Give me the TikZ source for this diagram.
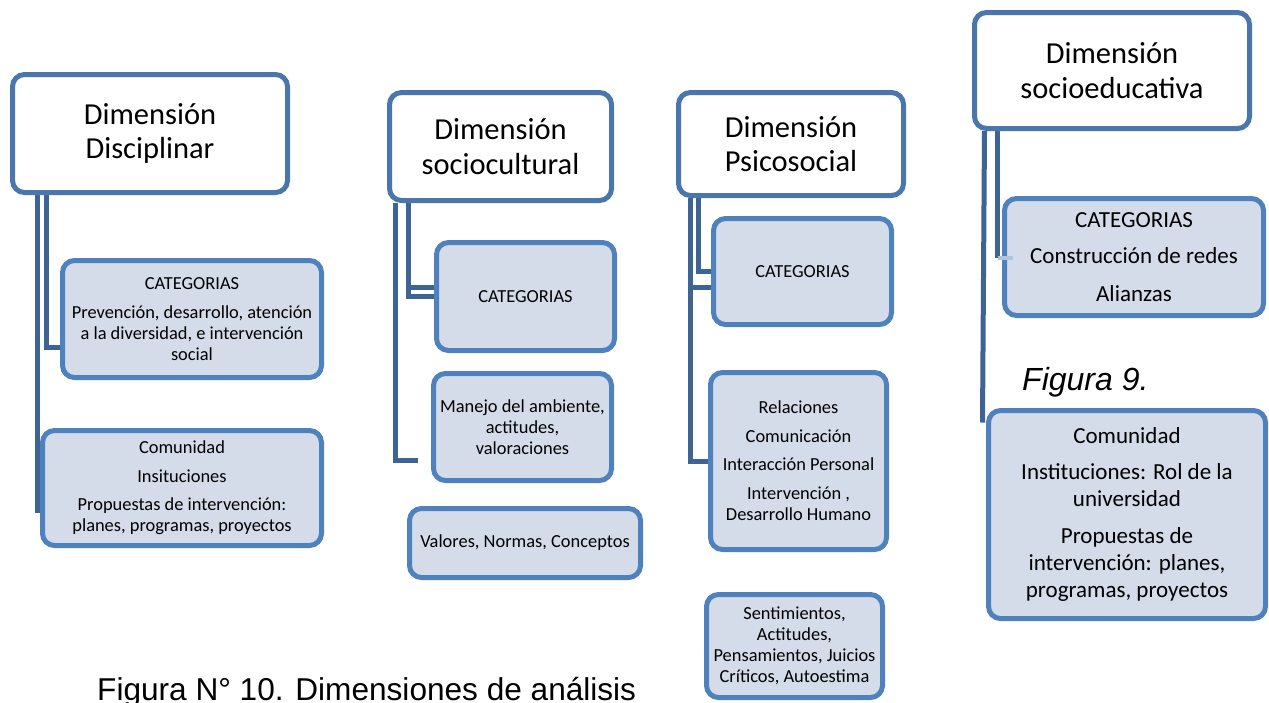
\documentclass[tikz,border=0pt]{standalone}
\usepackage{fontspec}
\setmainfont{Carlito}
\newfontfamily\capfont{Liberation Sans}
\usetikzlibrary{backgrounds}
\definecolor{hdrline}{RGB}{74,118,172}
\definecolor{subline}{RGB}{79,129,189}
\definecolor{subfill}{RGB}{212,220,234}
\definecolor{connline}{RGB}{62,100,150}
\definecolor{stubline}{RGB}{176,196,222}
\begin{document}
\begin{tikzpicture}[x=1pt,y=-1pt,
  hdrbox/.style={draw=hdrline,line width=5pt,fill=white,rounded corners=12pt,align=center,inner sep=0pt,font=\fontsize{30.5}{34.5}\selectfont},
  subbox/.style={draw=subline,line width=5pt,fill=subfill,rounded corners=12pt,align=center,inner sep=0pt,font=\fontsize{18.4}{21}\selectfont},
  bigbox/.style={subbox,font=\fontsize{23}{27}\selectfont},
  linkline/.style={draw=connline,line width=5pt},
  captext/.style={inner sep=0pt,font=\capfont\fontsize{31.6}{36}\selectfont}]
\useasboundingbox (0,0) rectangle (1269,702);
% Column 1
\node[hdrbox,minimum width=275pt,minimum height=118pt] (h1) at (150,133.5) {Dimensión\\Disciplinar};
\node[subbox,minimum width=259pt,minimum height=117pt] (c1) at (192,319) {CATEGORIAS\\[8.5pt]Prevención, desarrollo, atención\\a la diversidad, e intervención\\social};
\node[subbox,minimum width=279pt,minimum height=115pt] (d1) at (182,488) {Comunidad\\[8pt]Insituciones\\[7pt]Propuestas de intervención:\\planes, programas, proyectos};
% Column 2
\node[hdrbox,minimum width=222pt,minimum height=108pt] (h2) at (500.5,146.5) {Dimensión\\sociocultural};
\node[subbox,minimum width=178pt,minimum height=108pt] (c2) at (525.5,296.5) {CATEGORIAS};
\node[subbox,minimum width=178pt,minimum height=107pt] (m2) at (522.5,427) {Manejo del ambiente,\\actitudes,\\valoraciones};
\node[subbox,minimum width=231pt,minimum height=69pt] (v2) at (525,543) {Valores, Normas, Conceptos};
% Column 3
\node[hdrbox,minimum width=225pt,minimum height=103pt] (h3) at (791,144) {Dimensión\\Psicosocial};
\node[subbox,minimum width=178pt,minimum height=106pt] (c3) at (802.5,271.5) {CATEGORIAS};
\node[subbox,minimum width=176pt,minimum height=177pt] (r3) at (798.5,461) {Relaciones\\[8pt]Comunicación\\[7pt]Interacción Personal\\[8pt]Intervención ,\\Desarrollo Humano};
\node[subbox,minimum width=176pt,minimum height=103pt] (s3) at (794.5,646) {Sentimientos,\\Actitudes,\\Pensamientos, Juicios\\Críticos, Autoestima};
% Column 4
\node[hdrbox,minimum width=275pt,minimum height=116pt] (h4) at (1112,70.5) {Dimensión\\socioeducativa};
\node[bigbox,minimum width=259pt,minimum height=117pt] (c4) at (1134,257) {CATEGORIAS\\[9pt]Construcción de redes\\[11pt]Alianzas};
\node[bigbox,minimum width=277pt,minimum height=208pt] (d4) at (1127,514.5) {Comunidad\\[9pt]Instituciones: Rol de la\\universidad\\[10pt]Propuestas de\\intervención: planes,\\programas, proyectos};
% captions
\node[captext,anchor=base west,font=\capfont\itshape\fontsize{32}{36}\selectfont] (f9) at (1022,390) {Figura 9.};
\node[captext,anchor=base west] (f10) at (97,700) {Figura N° 10. Dimensiones de análisis};
% connectors
\begin{pgfonlayer}{background}
\draw[linkline] ([xshift=-2.5pt]d1.west |- h1.south) -- ([xshift=-2.5pt,yshift=-25pt]d1.west);
\draw[linkline] ([xshift=-13.5pt]c1.west |- h1.south) |- ([yshift=-28pt]c1.west);
\draw[linkline] ([xshift=-35.5pt]m2.west |- h2.south) |- ([xshift=-13.5pt,yshift=-33pt]m2.west);
\draw[linkline] ([xshift=-25.5pt]c2.west |- h2.south) |- (c2.west);
\draw[linkline] ([xshift=-25.5pt,yshift=9.5pt]c2.west) -- ([yshift=9.5pt]c2.west);
\draw[linkline] ([xshift=-12.5pt]c3.west |- h3.south) |- (c3.west);
\draw[linkline] ([xshift=-20.5pt]c3.west |- h3.south) |- (r3.west);
\draw[linkline] ([xshift=-20.5pt,yshift=-15.5pt]c3.west) -- ([yshift=-15.5pt]c3.west);
\draw[linkline] ([xshift=12.5pt]h4.south west) -- ([xshift=-3.5pt,yshift=-14.5pt]d4.north west);
\draw[linkline] ([xshift=-4.5pt]c4.west |- h4.south) -- ([xshift=-4.5pt,yshift=-1pt]c4.west);
\end{pgfonlayer}
\draw[draw=stubline,line width=4pt] ([xshift=-4.5pt,yshift=-1pt]c4.west) -- ([xshift=11pt,yshift=-1pt]c4.west);
\end{tikzpicture}
\end{document}
